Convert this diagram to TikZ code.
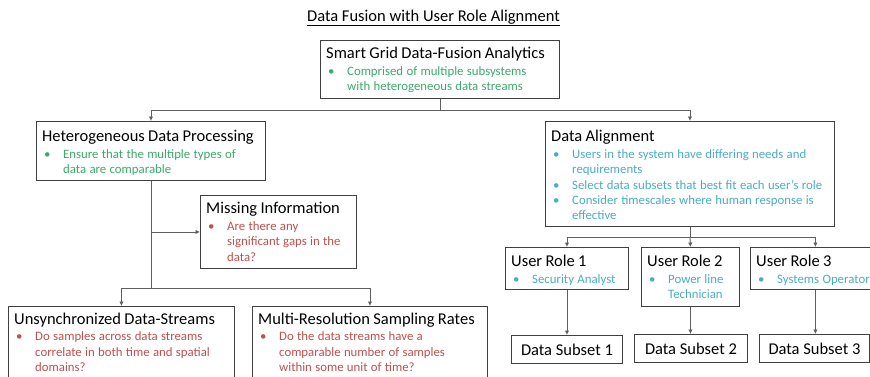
\documentclass[tikz,border=0pt]{standalone}
\usepackage{fontspec}
\setmainfont{Carlito}
\usetikzlibrary{arrows.meta}

\definecolor{tgreen}{RGB}{60,170,110}
\definecolor{tblue}{RGB}{75,172,198}
\definecolor{tred}{RGB}{192,80,77}
\definecolor{boxline}{RGB}{64,64,64}
\definecolor{wire}{RGB}{95,95,95}

\newcommand{\headfont}{\fontsize{16.5}{19}\selectfont}
\newcommand{\bodyfont}{\fontsize{12.8}{15.3}\selectfont}
% bullet paragraph with hanging indent
\newcommand{\bl}[1]{\par\noindent\hangindent=21pt\hangafter=0\llap{\makebox[19pt][l]{\textbullet}}#1\par}
% heading followed by coloured bullet points
\newcommand{\boxtext}[3]{{\headfont #1\par}\vspace{1.5pt}{\bodyfont\color{#2}#3\par}}

\tikzset{
  box/.style={draw=boxline, line width=0.9pt, fill=white, inner sep=0pt, anchor=north west},
  txt/.style={anchor=north west, inner sep=0pt, text width=320pt, align=left},
  wireline/.style={draw=wire, line width=0.9pt},
  arr/.style={wireline, -{Latex[length=4.5pt,width=4.5pt]}},
}

\begin{document}
\begin{tikzpicture}[x=1pt, y=-1pt]
\useasboundingbox (0,0) rectangle (870,376);
\clip (0,0) rectangle (870,376);

% title
\node[font=\headfont] (title) at (433.5,18) {\underline{Data Fusion with User Role Alignment}};

% boxes
\node[box, minimum width=239pt, minimum height=58pt] (sg) at (320,40) {};
\node[box, minimum width=229pt, minimum height=59pt] (hdp) at (36,121) {};
\node[box, minimum width=289pt, minimum height=105pt] (da) at (545,121) {};
\node[box, minimum width=156pt, minimum height=73pt] (mi) at (200,195) {};
\node[box, minimum width=226pt, minimum height=100pt] (us) at (8,306) {};
\node[box, minimum width=235pt, minimum height=100pt] (mr) at (252,306) {};
\node[box, minimum width=123pt, minimum height=42pt] (ur1) at (505,247) {};
\node[box, minimum width=98pt, minimum height=59pt] (ur2) at (641,247) {};
\node[box, minimum width=130pt, minimum height=42pt] (ur3) at (750,247) {};
\node[box, minimum width=111pt, minimum height=28pt] (ds1) at (511,335) {};
\node[box, minimum width=113pt, minimum height=28pt] (ds2) at (634,334) {};
\node[box, minimum width=110pt, minimum height=28pt] (ds3) at (759,334) {};

% box contents
\begin{scope}[every node/.append style={txt}]
\node (sgt) at ([shift={(6,7)}]sg.north west) {\boxtext{Smart Grid Data-Fusion Analytics}{tgreen}{%
  \bl{Comprised of multiple subsystems\newline with heterogeneous data streams}}};
\node (hdpt) at ([shift={(6,9)}]hdp.north west) {\boxtext{Heterogeneous Data Processing}{tgreen}{%
  \bl{Ensure that the multiple types of\newline data are comparable}}};
\node (dat) at ([shift={(6,9)}]da.north west) {\boxtext{Data Alignment}{tblue}{%
  \bl{Users in the system have differing needs and\newline requirements}
  \bl{Select data subsets that best fit each user’s role}
  \bl{Consider timescales where human response is\newline effective}}};
\node (mit) at ([shift={(6,7)}]mi.north west) {\boxtext{Missing Information}{tred}{%
  \bl{Are there any\newline significant gaps in the\newline data?}}};
\node (ust) at ([shift={(6,6.5)}]us.north west) {\boxtext{Unsynchronized Data-Streams}{tred}{%
  \bl{Do samples across data streams\newline correlate in both time and spatial\newline domains?}}};
\node (mrt) at ([shift={(6,6.5)}]mr.north west) {\boxtext{Multi-Resolution Sampling Rates}{tred}{%
  \bl{Do the data streams have a\newline comparable number of samples\newline within some unit of time?}}};
\node (ur1t) at ([shift={(6,8)}]ur1.north west) {\boxtext{User Role 1}{tblue}{\bl{Security Analyst}}};
\node (ur2t) at ([shift={(6,8)}]ur2.north west) {\boxtext{User Role 2}{tblue}{\bl{Power line\newline Technician}}};
\node (ur3t) at ([shift={(6,8)}]ur3.north west) {\boxtext{User Role 3}{tblue}{\bl{Systems Operator}}};
\end{scope}
\node[font=\headfont, inner sep=0pt] (ds1t) at (ds1.center) {Data Subset 1};
\node[font=\headfont, inner sep=0pt] (ds2t) at (ds2.center) {Data Subset 2};
\node[font=\headfont, inner sep=0pt] (ds3t) at (ds3.center) {Data Subset 3};

% connectors (y axis points down, so the junctions use absolute rows)
\coordinate (j1) at (sg.south |- 0,110);
\draw[wireline] (sg.south) -- (j1);
\draw[arr] (j1) -| (hdp.north);
\draw[arr] (j1) -| (da.north);

\coordinate (j2) at (hdp.south |- 0,288);
\coordinate (j3) at (hdp.south |- mi.west);
\draw[wireline] (hdp.south) -- (j2);
\draw[arr] (j3) -- (mi.west);
\draw[arr] (j2) -| (us.north);
\draw[arr] (j2) -| (mr.north);

\coordinate (j4) at (da.south |- 0,237);
\draw[wireline] (da.south) -- (j4);
\draw[arr] (j4) -| (ur1.north);
\draw[arr] (j4) -- (ur2.north);
\draw[arr] (j4) -| (ur3.north);

\draw[arr] (ur1.south) -- (ur1.south |- ds1.north);
\draw[arr] (ur2.south) -- (ur2.south |- ds2.north);
\draw[arr] (ur3.south) -- (ur3.south |- ds3.north);
\end{tikzpicture}
\end{document}
